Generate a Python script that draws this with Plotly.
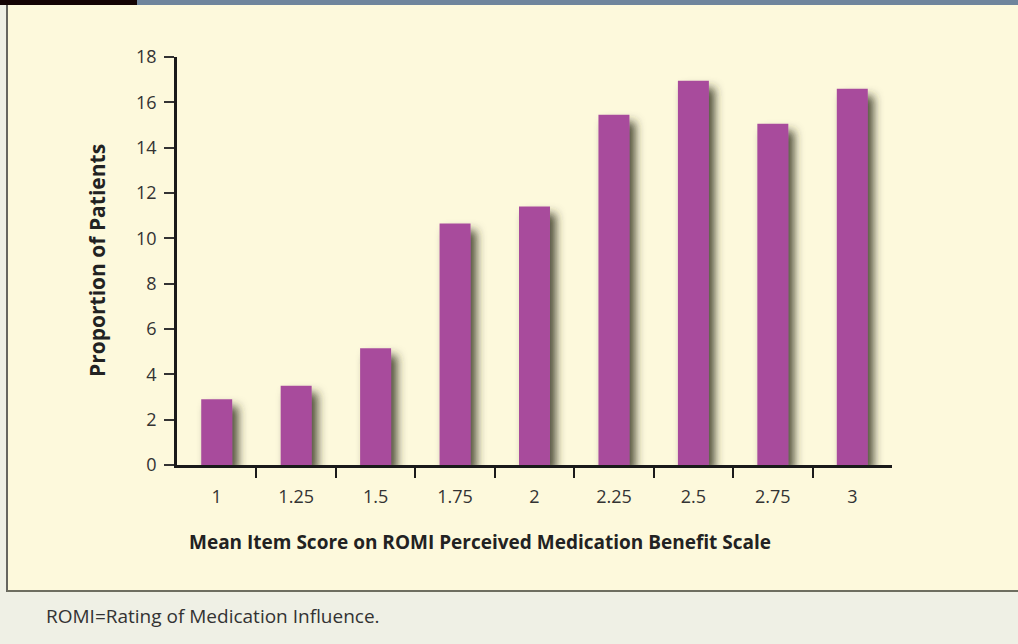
import plotly.graph_objects as go

# ---- data ----
categories = ["1", "1.25", "1.5", "1.75", "2", "2.25", "2.5", "2.75", "3"]
proportions = [2.9, 3.5, 5.15, 10.65, 11.4, 15.45, 16.95, 15.05, 16.6]
y_ticks = [0, 2, 4, 6, 8, 10, 12, 14, 16, 18]
x_title = "Mean Item Score on ROMI Perceived Medication Benefit Scale"
y_title = "Proportion of Patients"
footnote = "ROMI=Rating of Medication Influence."

# ---- geometry (pixels) ----
W, H = 1018, 644
L, R, T, B = 177, 892, 57, 465  # plot area edges in px
FONT = "Open Sans"
BAR = "#a84c9c"
CREAM = "#fdf9dc"
FOOT = "#eff0e5"


def px(x):
    return (x - L) / (R - L)


def py(y):
    return (B - y) / (B - T)


fig = go.Figure(
    go.Bar(
        x=categories,
        y=proportions,
        marker=dict(color=BAR, line=dict(width=0)),
        hoverinfo="skip",
    )
)
# invisible helper trace so the boundary-tick axis is drawn
fig.add_trace(go.Scatter(x=[-0.5, len(categories) - 0.5], y=[0, 0], xaxis="x2",
                         mode="markers", marker=dict(opacity=0), hoverinfo="skip"))

shapes = [
    dict(type="rect", xref="paper", yref="paper", x0=px(7), x1=px(W + 2),
         y0=py(591), y1=py(5), fillcolor=CREAM, line=dict(width=0), layer="below"),
    dict(type="rect", xref="paper", yref="paper", x0=px(0), x1=px(137),
         y0=py(5), y1=py(-2), fillcolor="#140404", line=dict(width=0), layer="below"),
    dict(type="rect", xref="paper", yref="paper", x0=px(137), x1=px(W + 2),
         y0=py(5), y1=py(-2), fillcolor="#6f859c", line=dict(width=0), layer="below"),
    dict(type="line", xref="paper", yref="paper", x0=px(7), x1=px(7),
         y0=py(592), y1=py(5), line=dict(color="#666660", width=2), layer="below"),
    dict(type="line", xref="paper", yref="paper", x0=px(7), x1=px(W + 2),
         y0=py(591), y1=py(591), line=dict(color="#6e6e60", width=2), layer="below"),
]

fig.update_layout(
    width=W,
    height=H,
    margin=dict(l=L, r=W - R, t=T, b=H - B, pad=0),
    paper_bgcolor=FOOT,
    plot_bgcolor="rgba(0,0,0,0)",
    bargap=0.61,
    showlegend=False,
    font=dict(family=FONT, color="#2b2b2b", size=16),
    shapes=shapes,
    annotations=[
        dict(text="<b>" + x_title + "</b>", xref="paper", yref="paper", x=px(480), y=py(542),
             xanchor="center", yanchor="middle", showarrow=False,
             font=dict(family=FONT, size=19, color="#222222")),
        dict(text="<b>" + y_title + "</b>", xref="paper", yref="paper", x=px(97), y=py(261),
             xanchor="center", yanchor="middle", showarrow=False, textangle=-90,
             font=dict(family=FONT, size=21, color="#222222")),
        dict(text=footnote, xref="paper", yref="paper", x=px(44), y=py(616),
             xanchor="left", yanchor="middle", showarrow=False,
             font=dict(family=FONT, size=19, color="#333333")),
    ],
    xaxis=dict(
        type="category",
        range=[-0.5, len(categories) - 0.5],
        showline=True, linecolor="#1a1a1a", linewidth=2.5,
        ticks="", ticklabelstandoff=14,
        tickfont=dict(size=18, color="#333333"),
        showgrid=False, zeroline=False,
    ),
    xaxis2=dict(
        overlaying="x", side="bottom", anchor="y",
        range=[-0.5, len(categories) - 0.5],
        tickvals=[i + 0.5 for i in range(len(categories) - 1)],
        showticklabels=False, showline=False, showgrid=False, zeroline=False,
        ticks="outside", ticklen=12, tickwidth=1.5, tickcolor="#1a1a1a",
    ),
    yaxis=dict(
        range=[0, 18],
        tickvals=y_ticks,
        showline=True, linecolor="#1a1a1a", linewidth=2.5,
        ticks="outside", ticklen=10, tickwidth=1.5, tickcolor="#333333",
        tickfont=dict(size=18, color="#333333"),
        ticklabelstandoff=4,
        showgrid=False, zeroline=False,
    ),
)

post = """
(function(){
  var gd = document.querySelector('.js-plotly-plot');
  function addShadow(){
    var svg = gd.querySelector('svg.main-svg');
    if(!svg) return;
    var defs = svg.querySelector('defs');
    if(!document.getElementById('barshadow')){
      var ns = 'http://www.w3.org/2000/svg';
      var f = document.createElementNS(ns,'filter');
      f.setAttribute('id','barshadow');
      f.setAttribute('x','-60%'); f.setAttribute('y','-20%');
      f.setAttribute('width','240%'); f.setAttribute('height','150%');
      var d = document.createElementNS(ns,'feDropShadow');
      d.setAttribute('dx','6'); d.setAttribute('dy','7');
      d.setAttribute('stdDeviation','5');
      d.setAttribute('flood-color','#303024');
      d.setAttribute('flood-opacity','0.85');
      f.appendChild(d); defs.appendChild(f);
    }
    gd.querySelectorAll('.bars .point path').forEach(function(p){
      p.setAttribute('filter','url(#barshadow)');
    });
  }
  addShadow();
  gd.on && gd.on('plotly_afterplot', addShadow);
})();
"""

fig.write_html("out.html", post_script=post, config={"displayModeBar": False})
